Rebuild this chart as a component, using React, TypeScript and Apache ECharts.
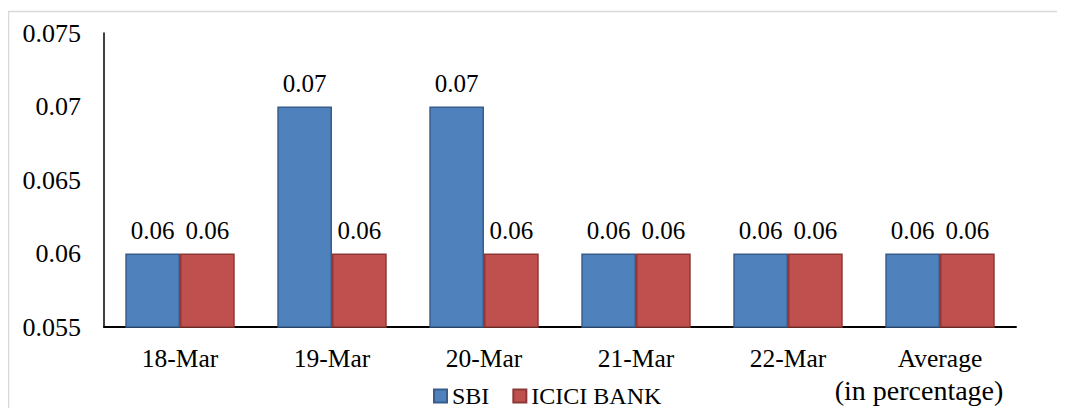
import React, { useEffect, useRef } from "react";
import * as echarts from "echarts";

const categories = ["18-Mar", "19-Mar", "20-Mar", "21-Mar", "22-Mar", "Average\n(in percentage)"];
const sbiValues = [0.06, 0.07, 0.07, 0.06, 0.06, 0.06];
const iciciValues = [0.06, 0.06, 0.06, 0.06, 0.06, 0.06];
const seriesNames = ["SBI", "ICICI BANK"];

const FONT = "Liberation Serif";

export default function App() {
  const ref = useRef<HTMLDivElement>(null);
  useEffect(() => {
    if (!ref.current) return;
    const chart = echarts.init(ref.current, undefined, { renderer: "svg" });
    const label = {
      show: true,
      position: "top",
      distance: 11,
      color: "#000",
      fontFamily: FONT,
      fontSize: 25,
      formatter: (p: any) => String(p.value),
    };
    chart.setOption({
      animation: false,
      textStyle: { fontFamily: FONT },
      graphic: [
        {
          type: "rect",
          shape: { x: 0.5, y: 3.5, width: 1200, height: 600 },
          style: { fill: "none", stroke: "#d9d9d9", lineWidth: 1.5 },
          silent: true,
          z: -10,
        },
      ],
      grid: { left: 96, right: 49, top: 25, bottom: 81, containLabel: false },
      legend: {
        data: seriesNames,
        left: 425,
        top: 376,
        padding: 0,
        itemWidth: 13,
        itemHeight: 13,
        itemGap: 23,
        icon: "rect",
        textStyle: { fontFamily: FONT, fontSize: 24, color: "#000", padding: [0, 0, 0, 0] },
      },
      xAxis: {
        type: "category",
        data: categories,
        axisLine: { show: true, lineStyle: { color: "#000", width: 2 } },
        axisTick: { show: false },
        axisLabel: {
          color: "#000",
          fontFamily: FONT,
          fontSize: 25.5,
          lineHeight: 34,
          margin: 14,
          interval: 0,
          formatter: (v: string) => {
            const parts = v.split("\n");
            return parts.length > 1 ? parts[0] + "\n{p|" + parts[1] + "}" : v;
          },
          rich: {
            p: {
              color: "#000",
              fontFamily: FONT,
              fontSize: 28,
              lineHeight: 30,
              padding: [0, 42, 0, 0],
            },
          },
        },
      },
      yAxis: {
        type: "value",
        min: 0.055,
        max: 0.075,
        interval: 0.005,
        splitLine: { show: false },
        axisLine: { show: true, lineStyle: { color: "#000", width: 1.5 } },
        axisTick: { show: false },
        axisLabel: {
          color: "#000",
          fontFamily: FONT,
          fontSize: 26,
          margin: 23,
          formatter: (v: number) => String(parseFloat(v.toFixed(3))),
        },
      },
      series: [
        {
          name: seriesNames[0],
          type: "bar",
          data: sbiValues,
          barGap: "0%",
          barCategoryGap: "28%",
          clip: true,
          itemStyle: { color: "#4F81BD", borderColor: "#385D8A", borderWidth: 1.5 },
          label,
        },
        {
          name: seriesNames[1],
          type: "bar",
          data: iciciValues,
          barGap: "0%",
          barCategoryGap: "28%",
          clip: true,
          itemStyle: { color: "#C0504D", borderColor: "#8C3836", borderWidth: 1.5 },
          label,
        },
      ],
    });
    return () => chart.dispose();
  }, []);
  return <div ref={ref} style={{ width: 1057, height: 400 }} />;
}
